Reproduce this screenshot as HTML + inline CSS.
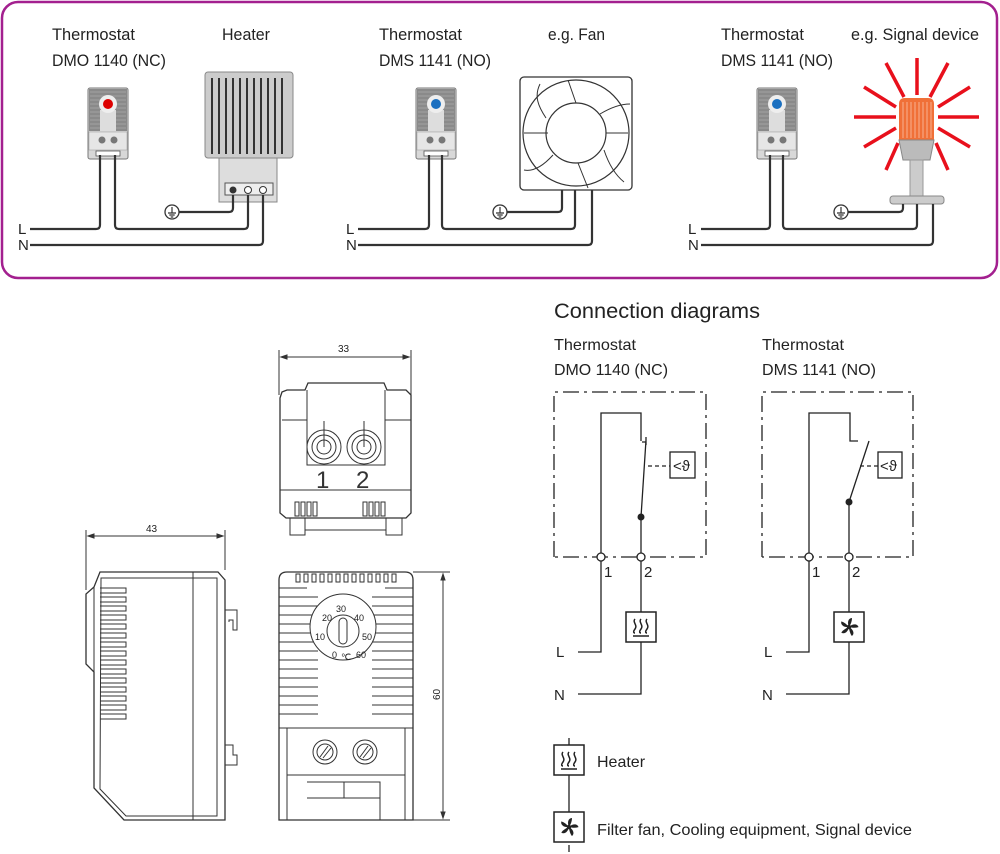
<!DOCTYPE html>
<html><head><meta charset="utf-8"><style>
html,body{margin:0;padding:0;background:#fff;}
svg{display:block;font-family:"Liberation Sans",sans-serif;}
</style></head><body>
<svg width="1000" height="854" viewBox="0 0 1000 854" xmlns="http://www.w3.org/2000/svg">
<defs>
<g id="therm">
 <rect x="0" y="0" width="40" height="71" rx="2" fill="#d8d8d8" stroke="#777" stroke-width="1"/>
 <rect x="1" y="1" width="38" height="42" fill="#8a8a8a"/>
 <g stroke="#aaa" stroke-width="0.8"><path d="M2,4H38M2,8H38M2,12H38M2,16H38M2,20H38M2,24H38M2,28H38M2,32H38M2,36H38M2,40H38"/></g>
 <rect x="12" y="22" width="16" height="21" fill="#ddd"/>
 <circle cx="20" cy="16" r="9" fill="#eee"/>
 <rect x="1" y="44" width="38" height="18" fill="#e6e6e6" stroke="#999" stroke-width="0.5"/>
 <circle cx="14" cy="52" r="3.5" fill="#777"/><circle cx="26" cy="52" r="3.5" fill="#777"/>
 <rect x="8" y="63" width="24" height="5" fill="#fff" stroke="#555" stroke-width="0.8"/>
</g>
<g id="gnd"><circle r="7" fill="#fff" stroke="#333" stroke-width="1.3"/><path d="M0,-5V1M-4,1H4M-2.7,3H2.7M-1.3,5H1.3" stroke="#333" stroke-width="1.2"/></g>
<g id="heatsym"><rect x="0" y="0" width="30" height="30" fill="#fff" stroke="#222" stroke-width="1.5"/>
 <path d="M9,7c-3,3 3,6 0,10s0,4 0,4M15,7c-3,3 3,6 0,10s0,4 0,4M21,7c-3,3 3,6 0,10s0,4 0,4M7,24H23" fill="none" stroke="#222" stroke-width="1.5"/></g>
<g id="fansym"><rect x="0" y="0" width="30" height="30" fill="#fff" stroke="#222" stroke-width="1.5"/>
 <g transform="translate(15,15)" fill="#222">
 <path d="M0,0 C-2,-4 -1,-9 3,-9 C3,-6 2,-3 0,0Z"/>
 <path d="M0,0 C-2,-4 -1,-9 3,-9 C3,-6 2,-3 0,0Z" transform="rotate(72)"/>
 <path d="M0,0 C-2,-4 -1,-9 3,-9 C3,-6 2,-3 0,0Z" transform="rotate(144)"/>
 <path d="M0,0 C-2,-4 -1,-9 3,-9 C3,-6 2,-3 0,0Z" transform="rotate(216)"/>
 <path d="M0,0 C-2,-4 -1,-9 3,-9 C3,-6 2,-3 0,0Z" transform="rotate(288)"/>
 <circle r="2.2"/></g></g>
</defs>

<rect x="2" y="2" width="995" height="276" rx="16" fill="#fff" stroke="#a3208f" stroke-width="2.5"/>

<g font-size="17" fill="#222">
<text x="52" y="40" textLength="83" lengthAdjust="spacingAndGlyphs">Thermostat</text>
<text x="52" y="66" textLength="114" lengthAdjust="spacingAndGlyphs">DMO 1140 (NC)</text>
<text x="222" y="40" textLength="48" lengthAdjust="spacingAndGlyphs">Heater</text>
<text x="379" y="40" textLength="83" lengthAdjust="spacingAndGlyphs">Thermostat</text>
<text x="379" y="66" textLength="112" lengthAdjust="spacingAndGlyphs">DMS 1141 (NO)</text>
<text x="548" y="40" textLength="57" lengthAdjust="spacingAndGlyphs">e.g. Fan</text>
<text x="721" y="40" textLength="83" lengthAdjust="spacingAndGlyphs">Thermostat</text>
<text x="721" y="66" textLength="112" lengthAdjust="spacingAndGlyphs">DMS 1141 (NO)</text>
<text x="851" y="40" textLength="128" lengthAdjust="spacingAndGlyphs">e.g. Signal device</text>
<text x="18" y="234" font-size="15">L</text><text x="18" y="250" font-size="15">N</text>
<text x="346" y="234" font-size="15">L</text><text x="346" y="250" font-size="15">N</text>
<text x="688" y="234" font-size="15">L</text><text x="688" y="250" font-size="15">N</text>
</g>

<!-- panel 1 -->
<use href="#therm" x="88" y="88"/>
<circle cx="108" cy="104" r="5" fill="#d00"/>
<rect x="205" y="72" width="88" height="86" rx="3" fill="#ccc" stroke="#888"/>
<g stroke="#333" stroke-width="2">
<path d="M212,78V154M219,78V154M226,78V154M233,78V154M240,78V154M247,78V154M254,78V154M261,78V154M268,78V154M275,78V154M282,78V154"/></g>
<rect x="219" y="158" width="58" height="44" fill="#ddd" stroke="#888"/>
<rect x="225" y="183" width="48" height="12" fill="#eee" stroke="#555"/>
<circle cx="233" cy="190" r="3.5" fill="#333"/><circle cx="248" cy="190" r="3.5" fill="#fff" stroke="#333"/><circle cx="263" cy="190" r="3.5" fill="#fff" stroke="#333"/>
<g fill="none" stroke="#333" stroke-width="2.2">
<path d="M30,229H96Q100,229 100,225V155"/>
<path d="M115,155V225Q115,229 119,229H244Q248,229 248,225V195"/>
<path d="M30,245H259Q263,245 263,241V195"/>
<path d="M179,212H229Q233,212 233,208V195"/>
</g>
<use href="#gnd" x="172" y="212"/>

<!-- panel 2 -->
<use href="#therm" x="416" y="88"/>
<circle cx="436" cy="104" r="5" fill="#1a6fc0"/>
<rect x="520" y="77" width="112" height="113" rx="4" fill="#fff" stroke="#333" stroke-width="1.3"/>
<circle cx="576" cy="133" r="53" fill="none" stroke="#333" stroke-width="1.2"/>
<circle cx="576" cy="133" r="30" fill="none" stroke="#333" stroke-width="1.2"/>
<g stroke="#333" stroke-width="1" fill="none">
<path d="M546,118C538,106 534,96 540,84M553,155C544,165 534,172 524,170M600,114C610,108 620,104 630,104M604,150C608,162 614,174 624,182M576,103L568,80M578,163L588,188M548,133H524M606,133H628"/></g>
<g fill="none" stroke="#333" stroke-width="2.2">
<path d="M358,229H425Q429,229 429,225V155"/>
<path d="M442,155V225Q442,229 446,229H571Q575,229 575,225V190"/>
<path d="M358,245H588Q592,245 592,241V190"/>
<path d="M507,212H558Q562,212 562,208V190"/>
</g>
<use href="#gnd" x="500" y="212"/>

<!-- panel 3 -->
<use href="#therm" x="757" y="88"/>
<circle cx="777" cy="104" r="5" fill="#1a6fc0"/>
<g stroke="#e8101c" stroke-width="3.5" stroke-linecap="butt">
<path d="M917,58V95M886,63L904,97M948,63L930,97M864,87L896,107M970,87L938,107M854,117H896M938,117H979M864,147L896,128M970,147L938,128M886,170L898,143M948,170L936,143"/></g>
<path d="M899,140V104Q899,98 905,98H928Q934,98 934,104V140Z" fill="#f07038"/>
<g stroke="#f9b090" stroke-width="1"><path d="M903,102V138M907,102V138M911,102V138M915,102V138M919,102V138M923,102V138M927,102V138M931,102V138"/></g>
<path d="M899,140H934L930,160H903Z" fill="#bbb" stroke="#888"/>
<rect x="910" y="160" width="13" height="36" fill="#ccc" stroke="#999"/>
<rect x="890" y="196" width="54" height="8" rx="3" fill="#ccc" stroke="#888"/>
<g fill="none" stroke="#333" stroke-width="2.2">
<path d="M701,229H766Q770,229 770,225V155"/>
<path d="M783,155V225Q783,229 787,229H913Q917,229 917,225V204"/>
<path d="M701,245H929Q933,245 933,241V204"/>
<path d="M848,212H899Q903,212 903,208V204"/>
</g>
<use href="#gnd" x="841" y="212"/>

<!-- Connection diagrams -->
<g fill="#222">
<text x="554" y="318" font-size="21" textLength="206" lengthAdjust="spacingAndGlyphs">Connection diagrams</text>
<text x="554" y="350" font-size="16" textLength="82" lengthAdjust="spacingAndGlyphs">Thermostat</text>
<text x="554" y="375" font-size="16" textLength="114" lengthAdjust="spacingAndGlyphs">DMO 1140 (NC)</text>
<text x="762" y="350" font-size="16" textLength="82" lengthAdjust="spacingAndGlyphs">Thermostat</text>
<text x="762" y="375" font-size="16" textLength="114" lengthAdjust="spacingAndGlyphs">DMS 1141 (NO)</text>
</g>
<g fill="none" stroke="#222" stroke-width="1.3">
<path d="M554,557V392H706V557H554" stroke-dasharray="16,5,3,5"/>
<path d="M762,557V392H913V557H762" stroke-dasharray="16,5,3,5"/>
<path d="M601,557V413H641V441"/>
<path d="M646,437V445M642,442L646,442M646,440L641,517V557"/>
<path d="M648,466H670" stroke-dasharray="4,3"/>
<rect x="670" y="452" width="25" height="26"/>
<path d="M601,557V652H578M641,557V612M641,642V694H578"/>
<path d="M809,557V413H850V441H858M869,441L849,502V557"/>
<path d="M860,466H878" stroke-dasharray="4,3"/>
<rect x="878" y="452" width="24" height="26"/>
<path d="M809,557V652H786M849,557V612M849,642V694H786"/>
<path d="M569,738V812M569,778V785M569,805V812M569,845V852"/>
</g>
<g fill="#222" font-size="15">
<text x="673" y="471">&lt;ϑ</text><text x="880" y="471">&lt;ϑ</text>
<text x="604" y="577">1</text><text x="644" y="577">2</text>
<text x="812" y="577">1</text><text x="852" y="577">2</text>
<text x="556" y="657">L</text><text x="554" y="700">N</text>
<text x="764" y="657">L</text><text x="762" y="700">N</text>
<text x="597" y="767" font-size="16">Heater</text>
<text x="597" y="835" font-size="16" textLength="315" lengthAdjust="spacingAndGlyphs">Filter fan, Cooling equipment, Signal device</text>
</g>
<circle cx="641" cy="517" r="3.5" fill="#222"/><circle cx="849" cy="502" r="3.5" fill="#222"/>
<g fill="#fff" stroke="#222" stroke-width="1.3">
<circle cx="601" cy="557" r="4"/><circle cx="641" cy="557" r="4"/>
<circle cx="809" cy="557" r="4"/><circle cx="849" cy="557" r="4"/>
</g>
<use href="#heatsym" x="626" y="612"/>
<use href="#fansym" x="834" y="612"/>
<use href="#heatsym" x="554" y="745"/>
<use href="#fansym" x="554" y="812"/>

<!-- mechanical drawings -->
<g fill="none" stroke="#333" stroke-width="1">
<path d="M279,350V395M411,350V395M281,357H409"/>
<path d="M281,357l6,-2v4zM409,357l-6,-2v4z" fill="#333"/>
<path d="M282,392L287,390H305L308,383H384L387,390H406L411,395V513L406,518H286L280,513V398Z" stroke-width="1.3"/>
<path d="M307,390V465H385V390M282,420H307M385,420H411M280,490H411"/>
<circle cx="324" cy="447" r="17"/><circle cx="324" cy="447" r="12"/><circle cx="324" cy="447" r="7"/>
<circle cx="364" cy="447" r="17"/><circle cx="364" cy="447" r="12"/><circle cx="364" cy="447" r="7"/>
<path d="M324,421V447M364,421V447"/>
<path d="M295,502h4v14h-4zM301,502h4v14h-4zM307,502h4v14h-4zM313,502h4v14h-4zM363,502h4v14h-4zM369,502h4v14h-4zM375,502h4v14h-4zM381,502h4v14h-4z"/>
<path d="M290,518V535H305V518M386,518V535H402V518M305,530H386"/>
<path d="M86,530V590M225,530V570M88,536H223"/>
<path d="M88,536l6,-2v4zM223,536l-6,-2v4z" fill="#333"/>
<path d="M100,572H218L225,580V820H124L94,788V672L86,664V594L94,587Z" stroke-width="1.3"/>
<path d="M101,578H217V816H126L100,789Z"/>
<path d="M193,572V820"/>
<path d="M225,610H237V630H233V620H229V622M225,745H233V755H237V765H225"/>
<path d="M94,587V788"/>
<path d="M100,588H126V593H100M100,597H126V602H100M100,606H126V611H100M100,615H126V620H100M100,624H126V629H100M100,633H126V638H100M100,642H126V647H100M100,651H126V656H100M100,660H126V665H100M100,669H126V674H100M100,678H126V683H100M100,687H126V692H100M100,696H126V701H100M100,705H126V710H100M100,714H126V719H100"/>
<path d="M287,572H405Q413,572 413,580V820H279V580Q279,572 287,572Z" stroke-width="1.3"/>
<path d="M296,574h4v8h-4zM304,574h4v8h-4zM312,574h4v8h-4zM320,574h4v8h-4zM328,574h4v8h-4zM336,574h4v8h-4zM344,574h4v8h-4zM352,574h4v8h-4zM360,574h4v8h-4zM368,574h4v8h-4zM376,574h4v8h-4zM384,574h4v8h-4zM392,574h4v8h-4z"/>
<path d="M279,588H307M279,597H318M279,606H318M279,615H318M279,624H318M279,633H318M279,642H318M279,651H318M279,660H318M279,669H318M279,678H318M279,687H318M279,696H318M279,705H318M279,714H318"/>
<path d="M413,588H385M413,597H372M413,606H372M413,615H372M413,624H372M413,633H372M413,642H372M413,651H372M413,660H372M413,669H372M413,678H372M413,687H372M413,696H372M413,705H372M413,714H372"/>
<path d="M279,728H413M287,728V820M405,728V820M287,775H405M307,782H380V820M344,782V798M307,798H380"/>
<circle cx="343" cy="627" r="33" fill="#fff"/>
<circle cx="343" cy="631" r="16"/>
<rect x="339" y="618" width="8" height="26" rx="4"/>
<circle cx="325" cy="752" r="12"/><circle cx="325" cy="752" r="8"/><path d="M320,757L328,746M323,758L331,748"/>
<circle cx="365" cy="752" r="12"/><circle cx="365" cy="752" r="8"/><path d="M360,757L368,746M363,758L371,748"/>
<path d="M413,572H450M413,820H450M443,574V818"/>
<path d="M443,574l-2,6h4zM443,818l-2,-6h4z" fill="#333"/>
</g>
<g fill="#222" font-size="10">
<text x="338" y="352">33</text><text x="146" y="532">43</text>
<text x="0" y="0" transform="translate(440,700) rotate(-90)">60</text>
<text x="336" y="612" font-size="9">30</text><text x="322" y="621" font-size="9">20</text><text x="354" y="621" font-size="9">40</text>
<text x="315" y="640" font-size="9">10</text><text x="362" y="640" font-size="9">50</text>
<text x="332" y="658" font-size="9">0</text><text x="341" y="660" font-size="9">℃</text><text x="356" y="658" font-size="9">60</text>
</g>
<g fill="#333" font-size="24"><text x="316" y="488">1</text><text x="356" y="488">2</text></g>
</svg>
</body></html>
